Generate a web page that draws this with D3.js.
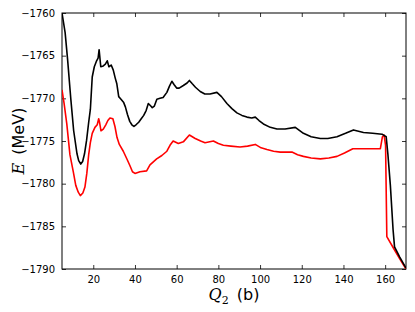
<!DOCTYPE html>
<html>
<head>
<meta charset="utf-8">
<script src="https://cdn.jsdelivr.net/npm/d3@7"></script>
<style>
  body { margin: 0; background: #fff; }
  text { font-family: "DejaVu Sans", sans-serif; }
</style>
</head>
<body>
<svg id="chart" width="415" height="312"></svg>
<script>
// Q2 (b) and E (MeV)
var blackQ = [5.0, 6.5, 7.7, 9.2, 10.6, 12.2, 13.0, 14.0, 14.9, 15.8, 16.8, 17.8, 18.6, 19.5, 20.5, 21.6, 22.3, 22.8, 23.6, 24.8,
  25.8, 26.7, 27.5, 28.6, 29.6, 30.5, 31.3, 32.2, 33.3, 34.6, 35.4, 36.4, 37.5, 38.5, 39.5, 40.5, 41.8, 43.0, 44.2, 45.4,
  46.4, 47.6, 48.3, 49.3, 50.5, 52.0, 53.5, 55.3, 56.5, 57.7, 58.8, 60.0, 61.2, 63.2, 65.0, 66.1, 67.5, 69.0, 71.3, 73.5,
  76.0, 79.3, 81.5, 84.1, 86.5, 88.9, 91.3, 93.7, 96.0, 97.7, 99.5, 101.6, 104.9, 108.1, 112.0, 116.9, 120.8, 124.5, 128.9, 132.5,
  136.9, 141.0, 144.8, 149.6, 154.0, 158.5, 160.5, 161.3, 162.5, 163.8, 164.5, 167.0, 170.0];
var blackE = [-1760.0, -1762.3, -1765.5, -1770.0, -1773.8, -1776.5, -1777.3, -1777.7, -1777.4, -1776.5, -1774.9, -1772.8, -1771.3, -1767.5, -1766.3, -1765.6, -1765.3, -1764.3, -1766.3, -1766.2,
  -1766.0, -1765.6, -1766.3, -1766.1, -1766.7, -1767.6, -1768.3, -1769.8, -1770.1, -1770.5, -1771.0, -1771.9, -1772.7, -1773.1, -1773.3, -1773.1, -1772.8, -1772.4, -1772.0, -1771.4,
  -1770.6, -1770.9, -1771.1, -1770.9, -1770.1, -1770.0, -1769.9, -1769.3, -1768.6, -1768.0, -1768.4, -1768.8, -1768.8, -1768.5, -1768.2, -1767.9, -1768.3, -1768.7, -1769.2, -1769.5,
  -1769.5, -1769.3, -1769.8, -1770.6, -1771.2, -1771.7, -1772.0, -1772.2, -1772.3, -1772.2, -1772.6, -1773.0, -1773.4, -1773.6, -1773.6, -1773.4, -1774.1, -1774.5, -1774.7, -1774.7,
  -1774.5, -1774.1, -1773.7, -1774.0, -1774.1, -1774.2, -1774.5, -1776.5, -1780.2, -1785.4, -1787.4, -1788.6, -1789.9];

var redQ = [5.0, 6.0, 7.3, 8.8, 10.4, 11.6, 12.8, 13.8, 15.0, 16.0, 16.9, 17.8, 18.6, 19.5, 20.8, 21.9, 22.6, 23.0, 23.7, 24.8,
  26.0, 27.0, 28.0, 29.4, 30.4, 31.4, 32.5, 34.4, 36.3, 37.6, 38.8, 40.0, 42.4, 45.6, 47.2, 50.4, 52.9, 55.3, 56.8, 58.3,
  60.8, 63.2, 66.1, 68.9, 71.5, 73.6, 77.6, 80.0, 82.4, 86.0, 90.4, 94.0, 97.7, 100.5, 103.3, 106.5, 109.7, 113.0, 115.3, 118.0,
  120.8, 124.5, 128.9, 133.0, 136.9, 140.5, 144.5, 150.0, 155.0, 157.7, 158.7, 159.5, 160.2, 160.8, 164.1, 167.0, 170.0];
var redE = [-1769.0, -1770.6, -1773.0, -1776.6, -1778.6, -1780.2, -1781.0, -1781.4, -1781.1, -1780.4, -1778.8, -1776.6, -1775.2, -1774.1, -1773.4, -1773.1, -1772.4, -1772.8, -1773.8, -1773.6,
  -1773.1, -1772.6, -1772.3, -1772.4, -1773.3, -1774.6, -1775.4, -1776.2, -1777.2, -1777.9, -1778.6, -1778.8, -1778.6, -1778.5, -1777.8, -1777.1, -1776.7, -1776.2, -1775.5, -1775.0,
  -1775.3, -1775.1, -1774.3, -1774.7, -1775.0, -1775.2, -1775.0, -1775.3, -1775.5, -1775.6, -1775.7, -1775.6, -1775.4, -1775.8, -1776.0, -1776.2, -1776.3, -1776.3, -1776.3, -1776.6,
  -1776.8, -1777.0, -1777.1, -1777.0, -1776.8, -1776.4, -1775.9, -1775.9, -1775.9, -1775.9, -1774.5, -1774.3, -1775.5, -1786.2, -1787.6, -1788.8, -1790.0];

var xTicks = [20, 40, 60, 80, 100, 120, 140, 160];
var yTicks = [-1760, -1765, -1770, -1775, -1780, -1785, -1790];

var margin = {left: 62, top: 13, right: 9, bottom: 43};
var width = 415 - margin.left - margin.right;
var height = 312 - margin.top - margin.bottom;

var svg = d3.select("#chart");
var g = svg.append("g").attr("transform", "translate(" + margin.left + "," + margin.top + ")");

var x = d3.scaleLinear().domain([5, 170]).range([0, width]);
var y = d3.scaleLinear().domain([-1790, -1760]).range([height, 0]);

g.append("clipPath").attr("id", "clip")
  .append("rect").attr("width", width).attr("height", height);

function fmt(d) { return d3.format("d")(d).replace("-", "\u2212"); }

// axes with inward ticks, matplotlib style
g.append("g").attr("transform", "translate(0," + height + ")")
  .call(d3.axisBottom(x).tickValues(xTicks).tickSizeInner(-4).tickSizeOuter(0).tickPadding(7));
g.append("g")
  .call(d3.axisTop(x).tickValues(xTicks).tickSizeInner(-4).tickSizeOuter(0).tickFormat(""));
g.append("g")
  .call(d3.axisLeft(y).tickValues(yTicks).tickSizeInner(-4).tickSizeOuter(0).tickPadding(7).tickFormat(fmt));
g.append("g").attr("transform", "translate(" + width + ",0)")
  .call(d3.axisRight(y).tickValues(yTicks).tickSizeInner(-4).tickSizeOuter(0).tickFormat(""));

g.selectAll(".domain").remove();
g.selectAll(".tick line").attr("stroke", "#000").attr("stroke-width", 0.8);
g.selectAll(".tick text").attr("font-size", 10).attr("font-family", "DejaVu Sans").attr("fill", "#000");

g.append("rect").attr("width", width).attr("height", height)
  .attr("fill", "none").attr("stroke", "#000").attr("stroke-width", 1);

var line = d3.line().x(function (d) { return x(d[0]); }).y(function (d) { return y(d[1]); });

var series = [
  {q: redQ, e: redE, colour: "#ff0000"},
  {q: blackQ, e: blackE, colour: "#000000"}
];

series.forEach(function (s) {
  var pts = d3.zip(s.q, s.e);
  g.append("path")
    .datum(pts)
    .attr("clip-path", "url(#clip)")
    .attr("fill", "none")
    .attr("stroke", s.colour)
    .attr("stroke-width", 1.6)
    .attr("stroke-linejoin", "round")
    .attr("d", line);
});

// axis labels
var xl = svg.append("text")
  .attr("x", margin.left + width / 2)
  .attr("y", 300)
  .attr("text-anchor", "middle")
  .attr("font-size", 16);
xl.append("tspan").attr("font-family", "DejaVu Serif").attr("font-style", "italic").text("Q");
xl.append("tspan").attr("font-family", "DejaVu Serif").attr("font-size", 11).attr("dy", 4).text("2");
xl.append("tspan").attr("dy", -4).text("\u2002(b)");

var yl = svg.append("text")
  .attr("transform", "translate(24," + (margin.top + height / 2) + ") rotate(-90)")
  .attr("text-anchor", "middle")
  .attr("font-size", 16);
yl.append("tspan").attr("font-family", "DejaVu Serif").attr("font-style", "italic").text("E");
yl.append("tspan").text("\u2002(MeV)");
</script>
</body>
</html>
